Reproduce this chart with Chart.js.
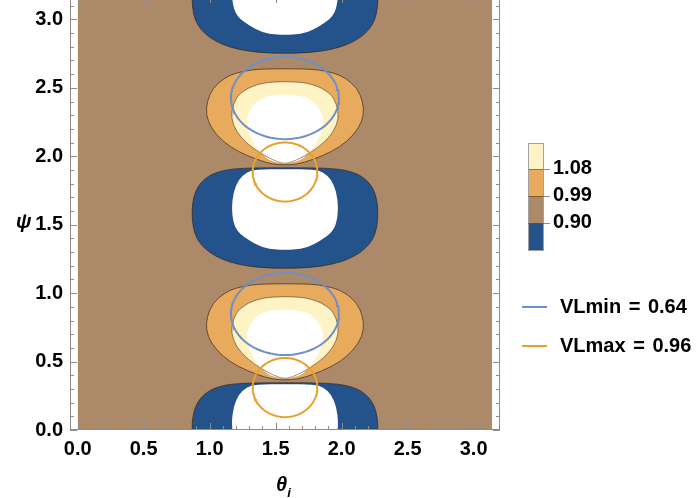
<!DOCTYPE html>
<html>
<head>
<meta charset="utf-8">
<script src="https://cdn.jsdelivr.net/npm/chart.js@4.4.1/dist/chart.umd.min.js"></script>
<style>
  html, body { margin: 0; padding: 0; background: #fff; width: 698px; height: 498px; overflow: hidden; position: relative;
    font-family: "Liberation Sans", Arial, sans-serif; }
  #plot { position: absolute; left: 0; top: -4px; }
  .txt { position: absolute; font-weight: bold; font-size: 20px; color: #000; white-space: nowrap; line-height: 20px; }
  .seg { position: absolute; left: 0; width: 16px; box-sizing: border-box; }
  .swatch { position: absolute; height: 2px; width: 25px; }
</style>
</head>
<body>
<canvas id="plot" width="698" height="502"></canvas>
<div class="txt" style="left:16px;top:211px;font-style:italic;">ψ</div>
<div class="txt" style="left:276px;top:474px;font-style:italic;">θ<span style="font-size:13px;position:relative;top:6px;">i</span></div>
<div id="bar" style="position:absolute;left:528px;top:143px;width:16px;height:108px;"></div>
<div id="legend"></div>
<script>
const PI = Math.PI;

// axis ticks
const xTicks = [0, 0.5, 1, 1.5, 2, 2.5, 3];
const yTicks = [0, 0.5, 1, 1.5, 2, 2.5, 3];

// contour levels and band colours (lowest band first)
const levels = [0.90, 0.99, 1.08];
const bandColors = ['#24528a', '#ac8968', '#e8aa5c', '#fdf3c4'];

// ψ positions of the low lobes and of the high lobes, all centred on θ = π/2
const thetaCenter = PI / 2;
const lowLobePsi = [0, PI / 2, PI];
const highLobePsi = [PI / 4, 3 * PI / 4];

// half contours [dθ, dψ], from top centre down the left side to bottom centre
const lowLobe = [[0, 0.345], [-0.25, 0.344], [-0.40, 0.337], [-0.50, 0.318], [-0.58, 0.285], [-0.64, 0.235],
  [-0.68, 0.17], [-0.70, 0.09], [-0.705, 0], [-0.695, -0.10], [-0.665, -0.18], [-0.61, -0.245], [-0.53, -0.30],
  [-0.42, -0.345], [-0.28, -0.375], [-0.13, -0.387], [0, -0.39]];
const lowCore = [[0, 0.335], [-0.22, 0.333], [-0.29, 0.312], [-0.35, 0.26], [-0.39, 0.17], [-0.405, 0.05],
  [-0.39, -0.06], [-0.36, -0.12], [-0.31, -0.16], [-0.22, -0.217], [-0.12, -0.25], [0, -0.255]];
const highOuter = [[0, 0.283], [-0.13, 0.282], [-0.256, 0.276], [-0.38, 0.25], [-0.459, 0.215], [-0.547, 0.142],
  [-0.59, 0.044], [-0.598, -0.053], [-0.56, -0.151], [-0.471, -0.248], [-0.357, -0.322], [-0.205, -0.383],
  [-0.091, -0.415], [0, -0.42]];
const highInner = [[0, 0.19], [-0.129, 0.184], [-0.2, 0.17], [-0.281, 0.142], [-0.34, 0.10], [-0.37, 0.069],
  [-0.408, -0.029], [-0.395, -0.127], [-0.332, -0.224], [-0.243, -0.297], [-0.142, -0.359], [-0.05, -0.40], [0, -0.41]];
const highCore = [[0, 0.093], [-0.081, 0.09], [-0.16, 0.075], [-0.218, 0.044], [-0.277, -0.029], [-0.294, -0.102],
  [-0.269, -0.2], [-0.231, -0.273], [-0.167, -0.346], [-0.12, -0.385], [-0.05, -0.405], [0, -0.41]];

// VLmin / VLmax level curves: ψ centres and radii [rθ, rψ]
const vlMinPsi = [0.848, 2.425];
const vlMinRadius = [0.409, 0.30];
const vlMaxPsi = [0.31, 1.885];
const vlMaxRadius = [0.245, 0.216];
const vlLabels = ['VLmin = 0.64', 'VLmax = 0.96'];
const vlColors = ['#6f8fc6', '#e7a12f'];

function ring(psi, rad) {
  const pts = [];
  for (let k = 0; k <= 96; k++) {
    const a = 2 * PI * k / 96;
    pts.push({ x: thetaCenter + rad[0] * Math.cos(a), y: psi + rad[1] * Math.sin(a) });
  }
  return pts;
}

const datasets = [];
vlMinPsi.forEach(c => datasets.push({ label: vlLabels[0], data: ring(c, vlMinRadius), borderColor: vlColors[0] }));
vlMaxPsi.forEach(c => datasets.push({ label: vlLabels[1], data: ring(c, vlMaxRadius), borderColor: vlColors[1] }));
datasets.forEach(d => Object.assign(d, { showLine: true, pointRadius: 0, borderWidth: 2, fill: false, tension: 0 }));

function fullOutline(half) {
  const pts = half.slice();
  for (let i = half.length - 2; i >= 1; i--) pts.push([-half[i][0], half[i][1]]);
  return pts;
}

const contourBands = {
  id: 'contourBands',
  beforeDatasetsDraw(chart) {
    const { ctx, scales: { x, y } } = chart;
    const l = x.getPixelForValue(0), r = x.getPixelForValue(PI);
    const t = y.getPixelForValue(PI), b = y.getPixelForValue(0);
    const trace = (half, psi) => {
      const P = fullOutline(half).map(p => [x.getPixelForValue(thetaCenter + p[0]), y.getPixelForValue(psi + p[1])]);
      const n = P.length;
      const mid = (a, c) => [(a[0] + c[0]) / 2, (a[1] + c[1]) / 2];
      ctx.beginPath();
      let m = mid(P[n - 1], P[0]);
      ctx.moveTo(m[0], m[1]);
      for (let i = 0; i < n; i++) {
        const q = mid(P[i], P[(i + 1) % n]);
        ctx.quadraticCurveTo(P[i][0], P[i][1], q[0], q[1]);
      }
      ctx.closePath();
    };
    const shape = (half, centers, fillColor, stroke) => {
      centers.forEach(c => {
        trace(half, c);
        if (fillColor) { ctx.fillStyle = fillColor; ctx.fill(); }
        if (stroke) { ctx.strokeStyle = stroke; ctx.lineWidth = 1; ctx.stroke(); }
      });
    };
    ctx.save();
    ctx.beginPath();
    ctx.rect(l, t, r - l, b - t);
    ctx.clip();
    ctx.fillStyle = bandColors[1];
    ctx.fillRect(l, t, r - l, b - t);
    const edge = 'rgba(45,35,25,0.65)';
    shape(lowLobe, lowLobePsi, bandColors[0], null);
    shape(lowCore, lowLobePsi, '#ffffff', null);
    shape(lowLobe, lowLobePsi, null, edge);
    shape(highOuter, highLobePsi, bandColors[2], null);
    shape(highInner, highLobePsi, bandColors[3], null);
    shape(highCore, highLobePsi, '#ffffff', null);
    shape(highOuter, highLobePsi, null, edge);
    shape(highInner, highLobePsi, null, 'rgba(45,35,25,0.5)');
    ctx.restore();
  },
  afterDatasetsDraw(chart) {
    const { ctx, chartArea: a, scales: { x, y } } = chart;
    ctx.save();
    ctx.strokeStyle = '#8c8c8c';
    ctx.lineWidth = 1;
    ctx.strokeRect(a.left + 0.5, a.top + 0.5, a.right - a.left - 1, a.bottom - a.top - 1);
    ctx.beginPath();
    for (let k = 0; k <= 31; k++) {
      const v = k / 10;
      const len = k % 5 === 0 ? 7 : 4;
      const xp = Math.round(x.getPixelForValue(v)) + 0.5;
      ctx.moveTo(xp, a.bottom); ctx.lineTo(xp, a.bottom - len);
      ctx.moveTo(xp, a.top); ctx.lineTo(xp, a.top + len);
      const yp = Math.round(y.getPixelForValue(v)) + 0.5;
      ctx.moveTo(a.left, yp); ctx.lineTo(a.left + len, yp);
      ctx.moveTo(a.right, yp); ctx.lineTo(a.right - len, yp);
    }
    ctx.stroke();
    ctx.restore();
  }
};

const tickFont = { family: '"Liberation Sans", Arial, sans-serif', size: 20, weight: 'bold' };

new Chart(document.getElementById('plot'), {
  type: 'scatter',
  data: { datasets },
  options: {
    responsive: false,
    animation: false,
    layout: { padding: { left: 0, right: 198, top: 0, bottom: 0 } },
    plugins: { legend: { display: false }, tooltip: { enabled: false } },
    scales: {
      x: {
        type: 'linear', min: -0.058, max: 3.2,
        grid: { display: false, drawTicks: false },
        border: { display: false },
        ticks: { font: tickFont, color: '#000', padding: 7, maxRotation: 0, callback: v => v.toFixed(1) },
        afterBuildTicks: s => { s.ticks = xTicks.map(v => ({ value: v })); },
        afterFit: s => { s.height = 68; s.paddingLeft = 0; s.paddingRight = 0; }
      },
      y: {
        type: 'linear', min: 0, max: 3.1708,
        grid: { display: false, drawTicks: false },
        border: { display: false },
        ticks: { font: tickFont, color: '#000', padding: 7, callback: v => v.toFixed(1) },
        afterBuildTicks: s => { s.ticks = yTicks.map(v => ({ value: v })); },
        afterFit: s => { s.width = 70; s.paddingTop = 0; s.paddingBottom = 0; }
      }
    }
  },
  plugins: [contourBands]
});

// colour bar legend, top band first
const bar = document.getElementById('bar');
const segH = 27;
for (let i = bandColors.length - 1, j = 0; i >= 0; i--, j++) {
  const d = document.createElement('div');
  d.className = 'seg';
  d.style.top = (j * segH) + 'px';
  d.style.height = segH + 'px';
  d.style.background = bandColors[i];
  d.style.borderLeft = '1px solid #a0a0a0';
  d.style.borderRight = '1px solid #a0a0a0';
  if (j === 0) d.style.borderTop = '1px solid #a0a0a0';
  d.style.borderBottom = j === bandColors.length - 1 ? '1px solid #a0a0a0' : '1px solid rgba(45,35,25,0.6)';
  bar.appendChild(d);
}
const legend = document.getElementById('legend');
levels.slice().reverse().forEach((lv, j) => {
  const yb = 143 + (j + 1) * segH;
  const tick = document.createElement('div');
  tick.style.cssText = 'position:absolute;left:544px;width:6px;height:1px;background:#8c8c8c;top:' + (yb - 1) + 'px';
  legend.appendChild(tick);
  const t = document.createElement('div');
  t.className = 'txt';
  t.style.left = '553px';
  t.style.top = (yb - 13) + 'px';
  t.textContent = lv.toFixed(2);
  legend.appendChild(t);
});
vlLabels.forEach((lab, j) => {
  const yc = 307 + j * 39;
  const s = document.createElement('div');
  s.className = 'swatch';
  s.style.left = '522px';
  s.style.top = (yc - 1) + 'px';
  s.style.background = vlColors[j];
  legend.appendChild(s);
  const t = document.createElement('div');
  t.className = 'txt';
  t.style.left = '560px';
  t.style.top = (yc - 11) + 'px';
  t.style.wordSpacing = '2px';
  t.textContent = lab;
  legend.appendChild(t);
});
</script>
</body>
</html>
